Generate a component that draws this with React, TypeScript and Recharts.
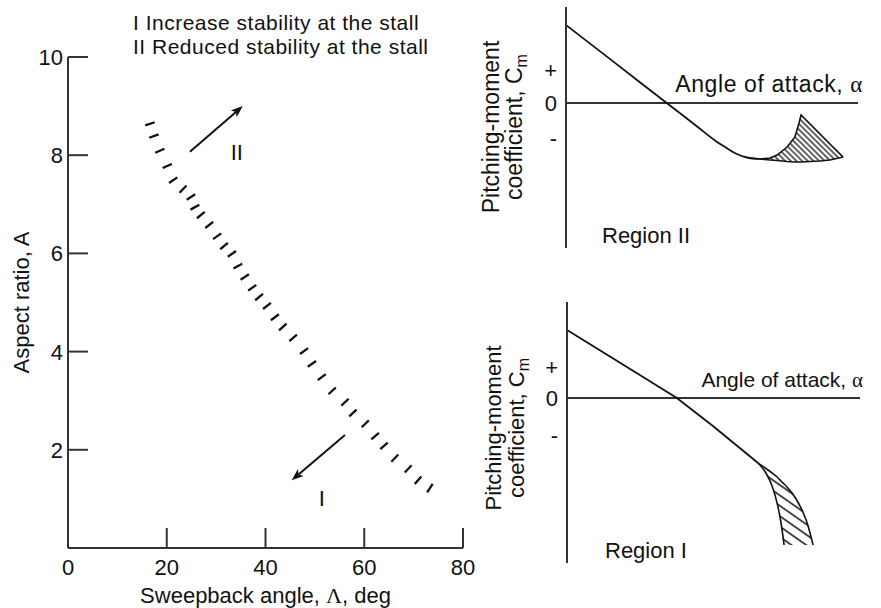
import React from 'react';
import {
  ScatterChart, Scatter, XAxis, YAxis, ReferenceLine, ReferenceDot,
  ComposedChart, Line, Area,
} from 'recharts';

const FONT = '"Liberation Sans", Arial, Helvetica, sans-serif';
const SERIF = '"Liberation Serif", "Times New Roman", serif';
const INK = '#111';
const AXIS = '#333';

// ---- main chart: sweepback angle vs aspect ratio ----
const sweepTicks = [0, 20, 40, 60, 80];
const aspectTicks = [2, 4, 6, 8, 10];

// boundary between region I and region II (hatched marks)
const boundarySweep = [16.6, 17.4, 18.6, 20.1, 21.3, 23.3, 24.9, 25.7, 26.9, 28.6, 30.2, 31.6, 33.2, 34.4, 35.8, 37.3, 38.7, 40.3, 41.9, 43.5, 45.6, 47.8, 49.4, 51.4, 53.5, 56.1, 57.7, 60.2, 62.2, 64.0, 66.2, 68.9, 70.9, 73.3];
const boundaryAspect = [8.64, 8.39, 8.09, 7.78, 7.49, 7.31, 7.15, 6.94, 6.78, 6.58, 6.35, 6.15, 5.99, 5.74, 5.52, 5.30, 5.11, 4.93, 4.70, 4.50, 4.28, 4.01, 3.75, 3.48, 3.20, 2.97, 2.75, 2.53, 2.28, 2.08, 1.83, 1.61, 1.38, 1.22];

const arrowII = [{ x: 24.7, y: 8.07 }, { x: 35.4, y: 9.0 }];
const arrowI = [{ x: 56.1, y: 2.3 }, { x: 45.3, y: 1.38 }];
const labelII = { x: 34.2, y: 8.07 };
const labelI = { x: 51.4, y: 1.02 };

const legendLines = ['I Increase stability at the stall', 'II Reduced stability at the stall'];

// ---- region II sketch (top right) ----
const signLabels = ['+', '0', '-'];
const signTicksII = [3.3, 0, -3.5];
const curveIIAlpha = [0, 17, 34.5, 45, 52, 55, 58.5, 62, 66.4];
const curveIICm = [7.8, 3.96, 0, -2.37, -3.95, -4.5, -5.1, -5.45, -5.6];
const hatchIIAlpha = [66.4, 69.9, 72.3, 75.7, 78.4, 79.8, 80.5, 83.6, 87.0, 90.4, 94.9];
const hatchIILow = [-5.6, -5.7, -5.75, -5.85, -5.9, -5.9, -5.9, -5.85, -5.8, -5.7, -5.4];
const hatchIIHigh = [-5.6, -5.5, -5.2, -4.4, -3.4, -2.0, -1.2, -2.1, -3.1, -4.1, -5.4];

// ---- region I sketch (bottom right) ----
const signTicksI = [3.1, 0, -3.7];
const curveIAlpha = [0, 18.8, 37.5, 49.8, 65.2];
const curveICm = [6.8, 3.4, 0, -2.8, -6.5];
const leftEdgeAlpha = [65.2, 67.9, 70.0, 71.7, 73.0, 74.1];
const leftEdgeCm = [-6.5, -7.5, -8.8, -10.5, -12.4, -14.7];
const rightEdgeAlpha = [65.2, 67.9, 70.0, 71.7, 73.0, 74.1, 75.1, 78.2, 80.5, 82.3, 83.3, 84.0];
const rightEdgeCm = [-6.5, -7.05, -7.5, -7.9, -8.3, -8.6, -8.9, -10.1, -11.4, -12.8, -13.9, -14.7];
const hatchIBottom = -14.7;

// layout
const MAIN_W = 480;
const MAIN_H = 608;
const MAIN_M = { top: 57, right: 17, bottom: 0, left: 0 };
const Y_AXIS_W = 68;
const X_AXIS_H = 60;
const PX_PER_DEG = (MAIN_W - MAIN_M.right - Y_AXIS_W) / 80;
const PX_PER_A = (MAIN_H - MAIN_M.top - X_AXIS_H) / 10;
const PANEL_X = 470;

const boundaryData = boundarySweep.map((x, i) => ({ x, y: boundaryAspect[i], i }));

const curveII = curveIIAlpha.map((a, i) => ({ a, cm: curveIICm[i] }));
const hatchII = hatchIIAlpha.map((a, i) => ({ a, range: [hatchIILow[i], hatchIIHigh[i]] }));
const curveI = curveIAlpha.map((a, i) => ({ a, cm: curveICm[i] }));
const leftEdgeI = leftEdgeAlpha.map((a, i) => ({ a, cm: leftEdgeCm[i] }));
const rightEdgeI = rightEdgeAlpha.map((a, i) => ({ a, cm: rightEdgeCm[i] }));
const hatchI = rightEdgeAlpha.map((a, i) => {
  const j = leftEdgeAlpha.indexOf(a);
  return { a, range: [j >= 0 ? leftEdgeCm[j] : hatchIBottom, rightEdgeCm[i]] };
});

// short tick mark drawn across the boundary, perpendicular to it
const HatchMark = (p: any) => {
  const { cx, cy, payload } = p;
  const i = payload.i;
  const a = Math.max(0, i - 1);
  const b = Math.min(boundarySweep.length - 1, i + 1);
  const dx = (boundarySweep[b] - boundarySweep[a]) * PX_PER_DEG;
  const dy = -(boundaryAspect[b] - boundaryAspect[a]) * PX_PER_A;
  const len = Math.hypot(dx, dy) || 1;
  const px = dy / len;
  const py = -dx / len;
  const h = 5;
  return (
    <line x1={cx - h * px} y1={cy - h * py} x2={cx + h * px} y2={cy + h * py}
      stroke={INK} strokeWidth={2.3} />
  );
};

const ArrowShape = (p: any) => {
  const { x1, y1, x2, y2 } = p;
  const ang = Math.atan2(y2 - y1, x2 - x1);
  const c = Math.cos(ang);
  const s = Math.sin(ang);
  const L = 12;
  const W = 4.5;
  const bx = x2 - L * c;
  const by = y2 - L * s;
  const nx = bx + 3 * c;
  const ny = by + 3 * s;
  return (
    <g>
      <line x1={x1} y1={y1} x2={nx} y2={ny} stroke={INK} strokeWidth={2} />
      <polygon
        points={`${x2},${y2} ${bx - s * W},${by + c * W} ${nx},${ny} ${bx + s * W},${by - c * W}`}
        fill={INK}
      />
    </g>
  );
};

const SweepTick = (p: any) => {
  const { x, y, payload } = p;
  return (
    <g>
      {payload.value !== 0 && <line x1={x} y1={y} x2={x} y2={y - 20} stroke={AXIS} strokeWidth={2} />}
      <text x={x} y={y + 27} textAnchor="middle" fontSize={22} fontFamily={FONT} fill={INK}>
        {payload.value}
      </text>
    </g>
  );
};

const AspectTick = (p: any) => {
  const { x, y, payload } = p;
  return (
    <g>
      <line x1={x} y1={y} x2={x + 20} y2={y} stroke={AXIS} strokeWidth={2} />
      <text x={x - 5} y={y} dy="0.36em" textAnchor="end" fontSize={22} fontFamily={FONT} fill={INK}>
        {payload.value}
      </text>
    </g>
  );
};

const xTitle = (p: any) => {
  const vb = p.viewBox;
  return (
    <text x={vb.x + vb.width / 2} y={vb.y + 55} textAnchor="middle" fontSize={22} fontFamily={FONT} fill={INK}>
      Sweepback angle, <tspan fontFamily={SERIF}>Λ</tspan>, deg
    </text>
  );
};

const yTitle = (p: any) => {
  const vb = p.viewBox;
  const cy = vb.y + vb.height / 2;
  return (
    <text x={29} y={cy} transform={`rotate(-90 29 ${cy})`} textAnchor="middle" fontSize={22} fontFamily={FONT} fill={INK}>
      Aspect ratio, A
    </text>
  );
};

function MainChart() {
  return (
    <ScatterChart width={MAIN_W} height={MAIN_H} margin={MAIN_M}>
      <XAxis type="number" dataKey="x" domain={[0, 80]} ticks={sweepTicks} interval={0}
        height={X_AXIS_H} tickSize={0} tickMargin={0} tickLine={false}
        axisLine={{ stroke: AXIS, strokeWidth: 2 }} tick={SweepTick} label={xTitle} />
      <YAxis type="number" dataKey="y" domain={[0, 10]} ticks={aspectTicks} interval={0}
        width={Y_AXIS_W} tickSize={0} tickMargin={0} tickLine={false}
        axisLine={{ stroke: AXIS, strokeWidth: 2 }} tick={AspectTick} label={yTitle} />
      <Scatter data={boundaryData} shape={HatchMark} isAnimationActive={false} />
      <ReferenceLine segment={arrowII} shape={ArrowShape} />
      <ReferenceLine segment={arrowI} shape={ArrowShape} />
      <ReferenceDot x={labelII.x} y={labelII.y} r={0} fill="none" stroke="none"
        label={{ value: 'II', position: 'center', fill: INK, fontSize: 22, fontFamily: FONT }} />
      <ReferenceDot x={labelI.x} y={labelI.y} r={0} fill="none" stroke="none"
        label={{ value: 'I', position: 'center', fill: INK, fontSize: 22, fontFamily: FONT }} />
      {legendLines.map((t, i) => (
        <text key={t} x={133} y={30 + i * 24} fontSize={21} letterSpacing={0.5} fontFamily={FONT} fill={INK}>{t}</text>
      ))}
    </ScatterChart>
  );
}

const signFormatter = (ticks: number[]) => (v: number) => signLabels[ticks.indexOf(v)] ?? '';

const cmTitle = (b1: number, b2: number, cy: number, fs: number) => () => (
  <g fontSize={fs} fontFamily={FONT} fill={INK} textAnchor="middle">
    <text x={b1} y={cy} transform={`rotate(-90 ${b1} ${cy})`}>Pitching-moment</text>
    <text x={b2} y={cy} transform={`rotate(-90 ${b2} ${cy})`}>
      coefficient, C<tspan fontSize={16} dy={5}>m</tspan>
    </text>
  </g>
);

function RegionIIChart() {
  return (
    <ComposedChart width={881 - PANEL_X} height={300} margin={{ top: 7, right: 23, bottom: 52, left: 0 }}>
      <XAxis type="number" dataKey="a" domain={[0, 100]} hide allowDataOverflow />
      <YAxis type="number" domain={[-14.5, 9.6]} allowDataOverflow ticks={signTicksII} interval={0}
        tickFormatter={signFormatter(signTicksII)} width={566 - PANEL_X} tickLine={false} tickSize={0} tickMargin={9}
        axisLine={{ stroke: AXIS, strokeWidth: 2 }}
        tick={{ fill: INK, fontSize: 22, fontFamily: FONT }}
        label={cmTitle(499 - PANEL_X, 522 - PANEL_X, 127, 23)} />
      <ReferenceLine y={0} stroke={AXIS} strokeWidth={2} />
      <Area data={hatchII} dataKey="range" type="linear" stroke={INK} strokeWidth={1.6}
        fill="url(#hatchII)" fillOpacity={1} dot={false} activeDot={false} isAnimationActive={false} />
      <Line data={curveII} dataKey="cm" type="monotone" stroke={INK} strokeWidth={1.8}
        dot={false} activeDot={false} isAnimationActive={false} />
      <text x={863 - PANEL_X} y={92} textAnchor="end" fontSize={23} letterSpacing={0.6} fontFamily={FONT} fill={INK}>
        Angle of attack, <tspan fontFamily={SERIF}>α</tspan>
      </text>
      <text x={602 - PANEL_X} y={243} fontSize={22} fontFamily={FONT} fill={INK}>Region II</text>
    </ComposedChart>
  );
}

function RegionIChart() {
  return (
    <ComposedChart width={881 - PANEL_X} height={318} margin={{ top: 12, right: 21, bottom: 45, left: 0 }}>
      <XAxis type="number" dataKey="a" domain={[0, 100]} hide allowDataOverflow />
      <YAxis type="number" domain={[-16.5, 9.6]} allowDataOverflow ticks={signTicksI} interval={0}
        tickFormatter={signFormatter(signTicksI)} width={567 - PANEL_X} tickLine={false} tickSize={0} tickMargin={9}
        axisLine={{ stroke: AXIS, strokeWidth: 2 }}
        tick={{ fill: INK, fontSize: 22, fontFamily: FONT }}
        label={cmTitle(501 - PANEL_X, 524 - PANEL_X, 138, 22)} />
      <ReferenceLine y={0} stroke={AXIS} strokeWidth={2} />
      <Area data={hatchI} dataKey="range" type="monotone" stroke="none"
        fill="url(#hatchI)" fillOpacity={1} dot={false} activeDot={false} isAnimationActive={false} />
      <Line data={curveI} dataKey="cm" type="linear" stroke={INK} strokeWidth={1.8}
        dot={false} activeDot={false} isAnimationActive={false} />
      <Line data={leftEdgeI} dataKey="cm" type="monotone" stroke={INK} strokeWidth={1.6}
        dot={false} activeDot={false} isAnimationActive={false} />
      <Line data={rightEdgeI} dataKey="cm" type="monotone" stroke={INK} strokeWidth={1.6}
        dot={false} activeDot={false} isAnimationActive={false} />
      <text x={863 - PANEL_X} y={97} textAnchor="end" fontSize={21} fontFamily={FONT} fill={INK}>
        Angle of attack, <tspan fontFamily={SERIF}>α</tspan>
      </text>
      <text x={605 - PANEL_X} y={268} fontSize={22} fontFamily={FONT} fill={INK}>Region I</text>
    </ComposedChart>
  );
}

export default function App() {
  return (
    <div style={{ position: 'absolute', left: 0, top: 0, width: 881, height: 608, background: '#fff', fontFamily: FONT }}>
      <svg width={0} height={0} style={{ position: 'absolute' }}>
        <defs>
          <pattern id="hatchII" width={4} height={4} patternUnits="userSpaceOnUse" patternTransform="rotate(-45)">
            <line x1={1} y1={0} x2={1} y2={4} stroke={INK} strokeWidth={1.3} />
          </pattern>
          <pattern id="hatchI" width={8.5} height={8.5} patternUnits="userSpaceOnUse" patternTransform="rotate(-55)">
            <line x1={1} y1={0} x2={1} y2={8.5} stroke={INK} strokeWidth={1.5} />
          </pattern>
        </defs>
      </svg>
      <div style={{ position: 'absolute', left: 0, top: 0 }}>
        <MainChart />
      </div>
      <div style={{ position: 'absolute', left: PANEL_X, top: 0 }}>
        <RegionIIChart />
      </div>
      <div style={{ position: 'absolute', left: PANEL_X, top: 290 }}>
        <RegionIChart />
      </div>
    </div>
  );
}
